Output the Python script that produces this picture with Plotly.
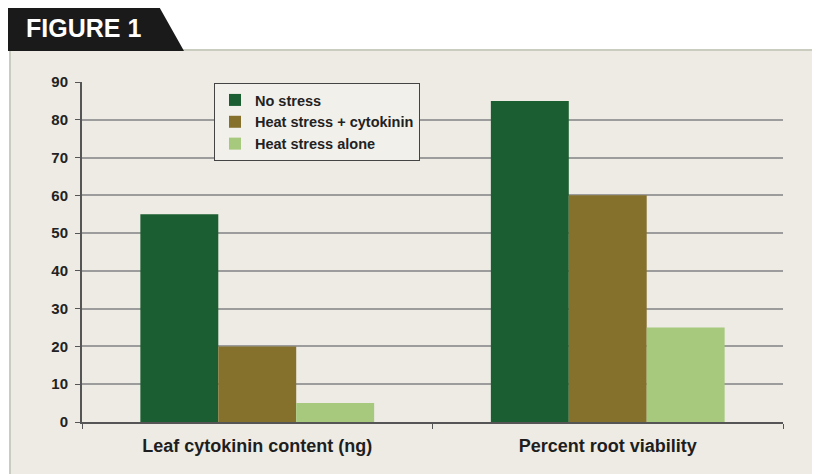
import plotly.graph_objects as go

categories = ["Leaf cytokinin content (ng)", "Percent root viability"]
series_names = ["No stress", "Heat stress + cytokinin", "Heat stress alone"]
no_stress = [55, 85]
heat_cyto = [20, 60]
heat_alone = [5, 25]
colors = ["#1b5e31", "#85702c", "#a7c97d"]

W, H = 820, 474
OFF = 8  # page body margin
L, R, T, B = 82 - OFF, 783 - OFF, 82 - OFF, 422 - OFF  # plot area in pixels


def px(x):
    return (x - OFF - L) / (R - L)


def py(y):
    return (B - (y - OFF)) / (B - T)


fig = go.Figure()
for name, vals, c in zip(series_names, [no_stress, heat_cyto, heat_alone], colors):
    fig.add_trace(go.Bar(x=categories, y=vals, name=name,
                         marker=dict(color=c, line=dict(width=0))))

panel_bg = "#edebe4"
shapes = [
    dict(type="rect", xref="paper", yref="paper", layer="below",
         x0=px(10), x1=px(832), y0=py(490), y1=py(50),
         fillcolor=panel_bg, line=dict(color="#c9ccbe", width=2)),
    dict(type="path", xref="paper", yref="paper", layer="above",
         path=f"M {px(8)},{py(3)} L {px(157)},{py(3)} L {px(184)},{py(51)} L {px(8)},{py(51)} Z",
         fillcolor="#1a1a1a", line=dict(width=0)),
]

fig.update_layout(
    width=W, height=H,
    margin=dict(l=L, r=W - R, t=T, b=H - B, autoexpand=False),
    paper_bgcolor="white", plot_bgcolor=panel_bg,
    barmode="group", bargap=0.333, bargroupgap=0,
    font=dict(family="Liberation Sans, Arial, sans-serif", color="#222222"),
    shapes=shapes,
    annotations=[dict(text="<b>FIGURE 1</b>", xref="paper", yref="paper",
                      x=px(24), y=py(28), xanchor="left", yanchor="middle",
                      showarrow=False, font=dict(size=25, color="white",
                                                 family="Liberation Sans, Arial, sans-serif"))],
    legend=dict(x=px(214), y=py(83), xanchor="left", yanchor="top",
                bgcolor="#f2f0eb", bordercolor="#444444", borderwidth=1,
                font=dict(size=14.5, color="#222222", weight=600),
                tracegroupgap=0),
    showlegend=True,
)
fig.update_xaxes(tickson="boundaries", ticks="outside", ticklen=5, tickcolor="#555555",
                 showline=True, linecolor="#555555", linewidth=2,
                 ticklabelstandoff=6,
                 tickfont=dict(size=18, weight="bold", color="#1e1e1e"))
fig.update_yaxes(range=[0, 90], dtick=10, ticks="outside", ticklen=5, tickcolor="#555555",
                 showline=True, linecolor="#555555", linewidth=2,
                 showgrid=True, gridcolor="#9c9c9c", gridwidth=1.5,
                 zeroline=False, ticklabelstandoff=4,
                 tickfont=dict(size=15, weight=600, color="#222222"))

fig.write_html("out.html")
